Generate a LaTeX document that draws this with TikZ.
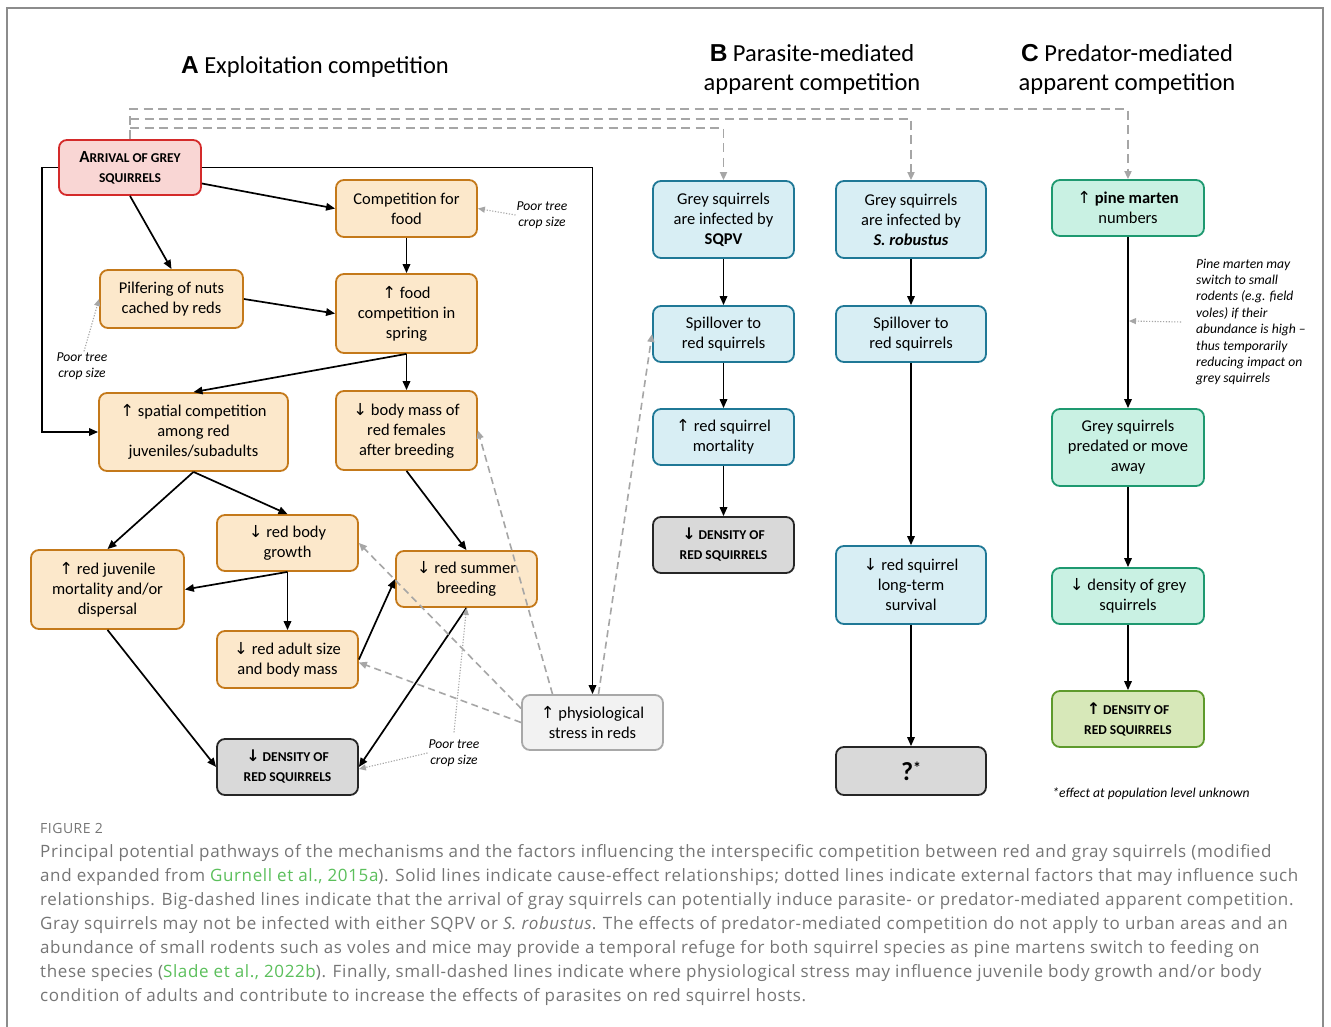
\documentclass[tikz,border=0pt]{standalone}
\usepackage{fontspec}
\setmainfont{Carlito}
\newfontfamily\capfont[LetterSpace=3.6]{Open Sans}
\newfontfamily\lettfont{Liberation Sans}
\newfontfamily\arrfont{DejaVu Sans}
\newcommand{\upar}{{\arrfont ↑}}
\newcommand{\dnar}{{\arrfont ↓}}
\usetikzlibrary{arrows.meta}
\definecolor{orfill}{HTML}{FCE8CB}
\definecolor{ordraw}{HTML}{C4791A}
\definecolor{blfill}{HTML}{D8EEF4}
\definecolor{bldraw}{HTML}{1F7896}
\definecolor{grfill}{HTML}{C9F1E3}
\definecolor{grdraw}{HTML}{1E9970}
\definecolor{lifill}{HTML}{D7E8B9}
\definecolor{lidraw}{HTML}{5E9A2C}
\definecolor{dkfill}{HTML}{D9D9D9}
\definecolor{dkdraw}{HTML}{262626}
\definecolor{phfill}{HTML}{F2F2F2}
\definecolor{phdraw}{HTML}{A8A8A8}
\definecolor{rdfill}{HTML}{F9D6D4}
\definecolor{rddraw}{HTML}{D42A2A}
\definecolor{dashgray}{HTML}{A6A6A6}
\definecolor{captxt}{HTML}{757575}
\definecolor{linkgreen}{HTML}{5BBF5B}
\definecolor{framegray}{HTML}{8C8C8C}
\pgfdeclarelayer{bg}
\pgfsetlayers{bg,main}
\tikzset{
  box/.style={rounded corners=8pt, line width=1.8pt, align=center, inner sep=2pt,
    font=\fontsize{16.5}{20}\selectfont},
  obox/.style={box, fill=orfill, draw=ordraw},
  bbox/.style={box, fill=blfill, draw=bldraw},
  gbox/.style={box, fill=grfill, draw=grdraw},
  lbox/.style={box, fill=lifill, draw=lidraw},
  dbox/.style={box, fill=dkfill, draw=dkdraw},
  pbox/.style={box, fill=phfill, draw=phdraw},
  rbox/.style={box, fill=rdfill, draw=rddraw},
  capsfont/.style={font=\bfseries\fontsize{13.5}{20}\selectfont},
  sz/.style 2 args={minimum width=#1pt, minimum height=#2pt},
  arr/.style={line width=1.7pt, -{Triangle[length=9pt,width=7.5pt]}},
  bigdash/.style={draw=dashgray, line width=1.8pt, dash pattern=on 9pt off 5.5pt,
    -{Triangle[length=8pt,width=7pt]}},
  smalldash/.style={draw=dashgray, line width=1.6pt, dash pattern=on 7pt off 4.5pt,
    -{Triangle[length=8pt,width=7pt]}},
  dotarr/.style={draw=dashgray, line width=1.1pt, dash pattern=on 1.2pt off 1.6pt,
    -{Triangle[length=7pt,width=6pt]}},
  note/.style={font=\fontsize{13.6}{16}\selectfont\itshape, align=center, inner sep=1pt},
  title/.style={font=\fontsize{24.5}{29}\selectfont, align=center, inner sep=0pt},
  capline/.style={anchor=base west, inner sep=0pt, text=captxt,
    font=\capfont\fontsize{17}{24}\selectfont}
}
\begin{document}
\begin{tikzpicture}[x=1pt,y=-1pt]
\useasboundingbox (0,0) rectangle (1331,1027);
\fill[white] (0,0) rectangle (1331,1027);
\draw[framegray, line width=1.3pt] (7,1027) -- (7,8) -- (1323,8) -- (1323,1027);

% titles
\node[title] (tA) at (315,67) {{\lettfont\bfseries A} Exploitation competition};
\node[title] (tB) at (812,69) {{\lettfont\bfseries B} Parasite-mediated\\apparent competition};
\node[title] (tC) at (1127,69) {{\lettfont\bfseries C} Predator-mediated\\apparent competition};

% A nodes
\node[rbox, sz={142}{55}, capsfont] (arrival) at (130,167.5)
  {{\fontsize{17}{20}\selectfont A}RRIVAL OF GREY\\SQUIRRELS};
\node[obox, sz={141}{57}] (compfood) at (406.5,208.5) {Competition for\\food};
\node[obox, sz={143}{58}] (pilfer) at (171.5,299) {Pilfering of nuts\\cached by reds};
\node[obox, sz={141}{79}] (foodspring) at (406.5,313.5) {\upar{} food\\competition in\\spring};
\node[obox, sz={189}{78}] (spatial) at (193.5,432) {\upar{} spatial competition\\among red\\juveniles/subadults};
\node[obox, sz={141}{79}] (bodymass) at (406.5,430.5) {\dnar{} body mass of\\red females\\after breeding};
\node[obox, sz={141}{56}] (bodygrowth) at (287.5,543) {\dnar{} red body\\growth};
\node[obox, sz={153}{79}] (juvmort) at (107.5,589.5) {\upar{} red juvenile\\mortality and/or\\dispersal};
\node[obox, sz={141}{56}] (summer) at (466.5,579) {\dnar{} red summer\\breeding};
\node[obox, sz={141}{57}] (adultsize) at (287.5,659.5) {\dnar{} red adult size\\and body mass};
\node[dbox, sz={141}{56}, capsfont] (densA) at (287.5,767) {{\fontsize{16}{20}\selectfont\dnar} DENSITY OF\\RED SQUIRRELS};
\node[pbox, sz={141}{55}] (physio) at (592.5,722.5) {\upar{} physiological\\stress in reds};

% B nodes
\node[bbox, sz={141}{77}] (sqpv) at (723.5,219.5) {Grey squirrels\\are infected by\\\textbf{SQPV}};
\node[bbox, sz={141}{56}] (spill1) at (723.5,334) {Spillover to\\red squirrels};
\node[bbox, sz={141}{56}] (mort) at (723.5,437) {\upar{} red squirrel\\mortality};
\node[dbox, sz={141}{56}, capsfont] (densB) at (723.5,545) {{\fontsize{16}{20}\selectfont\dnar} DENSITY OF\\RED SQUIRRELS};
\node[bbox, sz={150}{77}] (robustus) at (911,219.5) {Grey squirrels\\are infected by\\\textbf{\textit{S. robustus}}};
\node[bbox, sz={150}{56}] (spill2) at (911,334) {Spillover to\\red squirrels};
\node[bbox, sz={150}{78}] (longterm) at (911,585) {\dnar{} red squirrel\\long-term\\survival};
\node[dbox, sz={150}{48}, font={\bfseries\fontsize{26}{26}\selectfont}] (qmark) at (911,771) {?\raisebox{0.55ex}{\fontsize{16}{16}\selectfont*}};

% C nodes
\node[gbox, sz={152}{56}] (pine) at (1128,208) {\upar{} \textbf{pine marten}\\numbers};
\node[gbox, sz={152}{77}] (predated) at (1128,447.5) {Grey squirrels\\predated or move\\away};
\node[gbox, sz={152}{56}] (densgrey) at (1128,596) {\dnar{} density of grey\\squirrels};
\node[lbox, sz={152}{56}, capsfont] (densred) at (1128,719) {{\fontsize{16}{20}\selectfont\upar} DENSITY OF\\RED SQUIRRELS};

% notes
\node[note] (note1) at (542,215) {Poor tree\\crop size};
\node[note] (note2) at (82,366) {Poor tree\\crop size};
\node[note] (note3) at (454,753) {Poor tree\\crop size};
\node[note, align=left, anchor=west, font=\fontsize{13.6}{16.4}\selectfont\itshape] (note4) at (1195,322)
  {Pine marten may\\switch to small\\rodents (e.g. field\\voles) if their\\abundance is high --\\thus temporarily\\reducing impact on\\grey squirrels};
\node[note] (note5) at (1151,794) {*effect at population level unknown};

% coordinates
\coordinate (v2) at (130,119);
\coordinate (v3) at (130,128);
\coordinate (pmline) at (1129,321);

% big dashed (arrival -> apparent competition)
\draw[bigdash] (arrival.north) -- ++(0,-30) -| (pine.north);
\draw[bigdash] (v2) -| (robustus.north);
\draw[bigdash] (v3) -| (sqpv.north);

% solid arrows A
\draw[arr] (arrival.east) -| (physio.north);
\draw[arr] (arrival.west) -- ++(-16,0) |- (spatial.west);
\draw[arr] ([yshift=-16pt]arrival.east) -- (compfood.west);
\draw[arr] (arrival.south) -- (pilfer.north);
\draw[arr] (compfood.south) -- (foodspring.north);
\draw[arr] (pilfer.east) -- (foodspring.west);
\draw[arr] (foodspring.south) -- (spatial.north);
\draw[arr] (foodspring.south) -- (bodymass.north);
\draw[arr] (spatial.south) -- (juvmort.north);
\draw[arr] (spatial.south) -- (bodygrowth.north);
\draw[arr] (bodygrowth.south) -- (juvmort.east);
\draw[arr] (bodygrowth.south) -- (adultsize.north);
\draw[arr] (bodymass.south) -- (summer.north);
\draw[arr] (adultsize.east) -- (summer.west);
\draw[arr] (juvmort.south) -- (densA.west);
\draw[arr] (summer.south) -- (densA.east);

% solid arrows B, C
\draw[arr] (sqpv) -- (spill1);
\draw[arr] (spill1) -- (mort);
\draw[arr] (mort) -- (densB);
\draw[arr] (robustus) -- (spill2);
\draw[arr] (spill2) -- (longterm);
\draw[arr] (longterm) -- (qmark);
\draw[arr] (pine) -- (predated);
\draw[arr] (predated) -- (densgrey);
\draw[arr] (densgrey) -- (densred);

% small dashed from physiological stress
\draw[smalldash] ([xshift=-40pt]physio.north) -- (bodymass.east);
\draw[smalldash] ([yshift=14pt]physio.west) -- (bodygrowth.east);
\draw[smalldash] (physio.west) -- ([yshift=-3pt]adultsize.east);
\draw[smalldash] ([xshift=6pt]physio.north) -- (spill1.west);
\begin{pgfonlayer}{bg}
\draw[smalldash] ([yshift=4pt]physio.east) -- (spill2.west);
\end{pgfonlayer}

% dotted external factors
\draw[dotarr] (note1.west) -- (compfood.east);
\draw[dotarr] ([xshift=2pt]note2.north) -- (pilfer.west);
\draw[dotarr] (note3.west) -- ([yshift=-2pt]densA.east);
\draw[dotarr] ([yshift=6pt]note3.north) -- (summer.south);
\draw[dotarr] ([xshift=-14pt]note4.west) -- (pmline);

% caption
\node[anchor=base west, inner sep=0pt, text=captxt, font=\capfont\fontsize{14}{16}\selectfont] (fig) at (40,833) {FIGURE 2};
\node[capline] (c1) at (40,857) {Principal potential pathways of the mechanisms and the factors influencing the interspecific competition between red and gray squirrels (modified};
\node[capline] (c2) at (40,881) {and expanded from \textcolor{linkgreen}{Gurnell et al., 2015a}). Solid lines indicate cause-effect relationships; dotted lines indicate external factors that may influence such};
\node[capline] (c3) at (40,905) {relationships. Big-dashed lines indicate that the arrival of gray squirrels can potentially induce parasite- or predator-mediated apparent competition.};
\node[capline] (c4) at (40,929) {Gray squirrels may not be infected with either SQPV or \textit{S. robustus}. The effects of predator-mediated competition do not apply to urban areas and an};
\node[capline] (c5) at (40,953) {abundance of small rodents such as voles and mice may provide a temporal refuge for both squirrel species as pine martens switch to feeding on};
\node[capline] (c6) at (40,977) {these species (\textcolor{linkgreen}{Slade et al., 2022b}). Finally, small-dashed lines indicate where physiological stress may influence juvenile body growth and/or body};
\node[capline] (c7) at (40,1001) {condition of adults and contribute to increase the effects of parasites on red squirrel hosts.};
\end{tikzpicture}
\end{document}
